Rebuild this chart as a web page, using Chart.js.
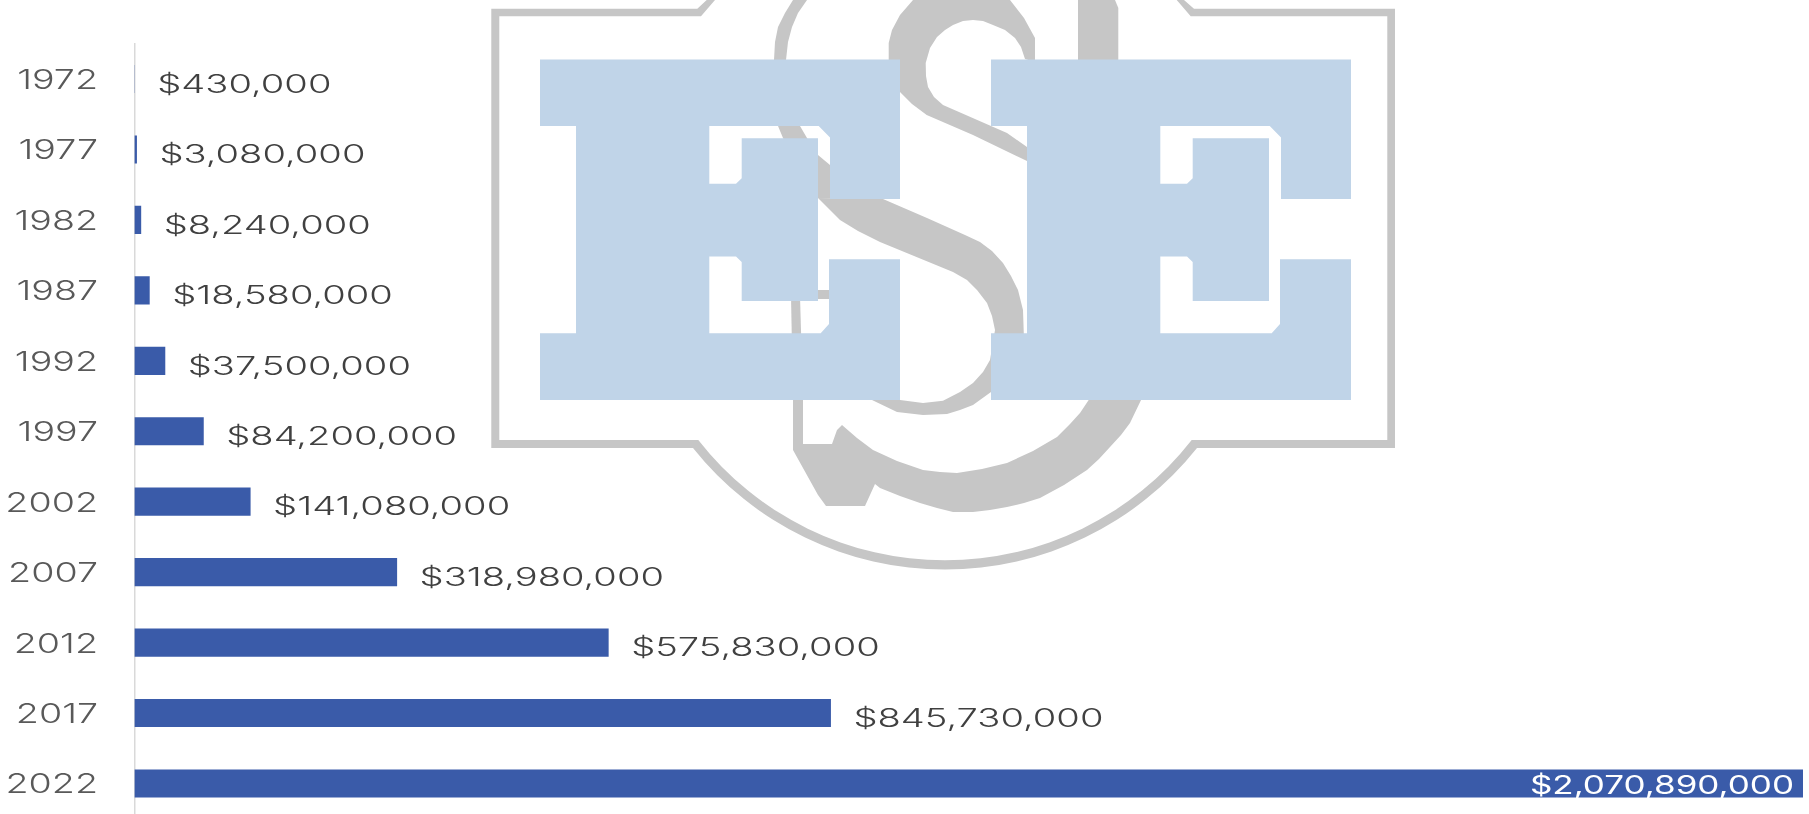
<!DOCTYPE html>
<html>
<head>
<meta charset="utf-8">
<title>Sales by census year</title>
<script src="https://cdn.jsdelivr.net/npm/chart.js@4"></script>
<style>
  html, body { margin: 0; padding: 0; background: #fff; overflow: hidden; }
  #logo, #salesChart { position: absolute; left: 0; top: 0; }
</style>
</head>
<body>
<!-- watermark logo behind the chart -->
<svg id="logo" width="1809" height="814" viewBox="0 0 1809 814">
  <defs>
    <path id="letterE" d="M540 59.5H900V199H830V137.5L818.7 126H709.3V183.7H736L741.7 178.3V138.3H818V301H741.7V262L736 256.4H709.3V333.3H820.7L829 324V259.3H900V400H540V333.3H576V126H540Z"/>
  </defs>
  <g fill="#c6c6c6">
    <!-- frame and ring -->
    <path fill-rule="evenodd" d="M491.3 8.7H697.3L706.7 0H1184L1194 8.7H1395V448H1197A322 322 0 0 1 693 448H491.3Z M499.3 16.3V440H698.3A313 313 0 0 0 1191.7 440H1387.3V16.3H1190.7L1176.7 0H715L701 16.3Z"/>
    <!-- thin left stroke -->
    <polygon points="793,0 807,0 798,13 792,27 788,42 786,60 786,126 800,126 807,138 818,155 830,165 883,199 818,198 783,138 778,126 774,60 775,42 778,27 785,13"/>
    <!-- upper hook and ribbon -->
    <polygon points="913,0 1010,0 1024,18 1035,38 1035,62 1025,59 1021,47 1015,38 1005,30 993,25 983,21 973,20 963,21 953,25 945,30 937,37 930,48 925.7,63 926,76 928,87 934,97 943,105 1007,133 1027,147 1027,161 973,135 926.7,115 912,104 900,92 893,76 888.7,60 888.7,43 892,30 900,15"/>
    <polygon points="883,199 927,218 965,235 980,242 992,251 1003,263 1011,276 1018,290 1023,310 1024,340 1010,370 991,392 973,405 960,410 947,414 923,415 897,412 872,400 900,400 923,403 943,400.7 960,392 973,383 983,372 990,360 995,330 992,316 987,303 977,290 967,280 953,272 880,242 858,231 840,220 818,198"/>
    <!-- top right block -->
    <polygon points="1078,0 1115,0 1118.3,8 1118.3,62 1078,62"/>
    <!-- lower sweep with serif -->
    <polygon points="842,425 857,438 873,450 897,461 923,470 940,472 957,473 982,469 1007,463 1033,451 1057,437 1070,424 1080,413 1090,398 1142,398 1130,423 1121,435 1110,447 1099,459 1087,470 1064,485 1040,498 1024,503 1007,507 990,510 973,512 953,512 937,508 920,503 900,496 880,488 875,484 865,506 826,506 818,495 793,450 793,398 803,398 803,444 832,444 837,430"/>
    <!-- small pieces between the letters -->
    <polygon points="791,296 800,296 803,400 793,400"/>
    <rect x="800" y="290" width="29" height="9"/>
  </g>
  <use href="#letterE" fill="#c0d4e8"/>
  <use href="#letterE" x="451" fill="#c0d4e8"/>
</svg>
<canvas id="salesChart" width="1809" height="830"></canvas>
<script>
const years = ["1972", "1977", "1982", "1987", "1992", "1997", "2002", "2007", "2012", "2017", "2022"];
const sales = [430000, 3080000, 8240000, 18580000, 37500000, 84200000, 141080000, 318980000, 575830000, 845730000, 2070890000];
// the axis stops short of the last bar, it runs off the plot in the original
const axisMax = 2026000000;

const tickStretch = 1.42;
const valueStretch = 1.525;
const insideStretch = 1.4;
const tickFont = '300 26.5px Inter';
const valueFont = '350 25px Inter';
const insideFont = '400 25px Inter';

function wideText(ctx, text, x, y, align, stretch) {
    ctx.save();
    ctx.translate(x, y);
    ctx.scale(stretch, 1);
    ctx.textAlign = align;
    ctx.textBaseline = 'middle';
    ctx.fillText(text, 0, 0);
    ctx.restore();
}

// year labels and dollar labels, the font has to be drawn wider than any installed one
const wideLabels = {
    id: 'wideLabels',
    afterDatasetsDraw(chart) {
        const ctx = chart.ctx;
        const yScale = chart.scales.y;
        ctx.save();
        ctx.font = tickFont;
        ctx.fillStyle = '#595959';
        years.forEach((year, i) => {
            wideText(ctx, year, 98, yScale.getPixelForTick(i) + 2, 'right', tickStretch);
        });
        chart.getDatasetMeta(0).data.forEach((bar, i) => {
            const label = '$' + sales[i].toLocaleString('en-US');
            if (sales[i] > axisMax) {
                ctx.font = insideFont;
                ctx.fillStyle = '#ffffff';
                wideText(ctx, label, chart.chartArea.right - 9, bar.y + 3, 'right', insideStretch);
            } else {
                ctx.font = valueFont;
                ctx.fillStyle = '#404040';
                wideText(ctx, label, bar.x + 22.5, bar.y + 6.2, 'left', valueStretch);
            }
        });
        ctx.restore();
    }
};

new Chart(document.getElementById('salesChart').getContext('2d'), {
    type: 'bar',
    data: {
        labels: years,
        datasets: [{
            data: sales,
            backgroundColor: '#3a5ba9',
            barPercentage: 0.4,
            categoryPercentage: 1
        }]
    },
    options: {
        indexAxis: 'y',
        responsive: false,
        animation: false,
        devicePixelRatio: 1,
        layout: { padding: { left: 134.4, right: 6, top: 43.8, bottom: 11.3 } },
        plugins: {
            legend: { display: false },
            title: { display: false },
            tooltip: { enabled: false }
        },
        scales: {
            x: { display: false, min: 0, max: axisMax },
            y: {
                ticks: { display: false },
                grid: { drawOnChartArea: false, drawTicks: false },
                border: { display: true, color: '#d9d9d9', width: 1.5 }
            }
        }
    },
    plugins: [wideLabels]
});
</script>
</body>
</html>
